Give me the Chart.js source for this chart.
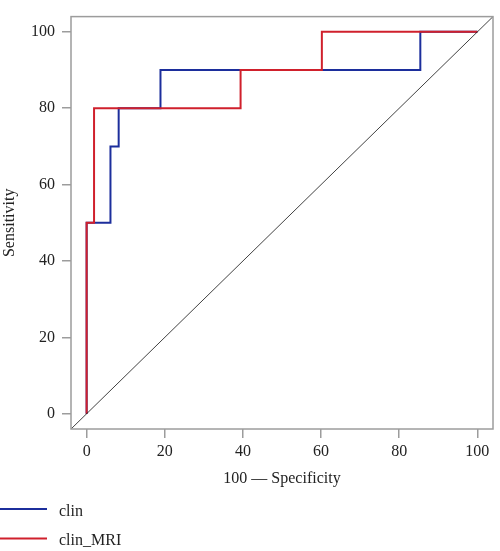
<!DOCTYPE html>
<html>
<head>
<meta charset="utf-8">
<script src="https://cdn.jsdelivr.net/npm/chart.js@4/dist/chart.umd.min.js"></script>
<style>
  html, body { margin: 0; padding: 0; background: #fff; }
  #wrap { width: 500px; height: 551px; }
</style>
</head>
<body>
<div id="wrap"><canvas id="roc" width="500" height="551"></canvas></div>
<script>
// ROC curves: x = 100 - specificity, y = sensitivity
const seriesNames = ["clin", "clin_MRI"];
const seriesColors = ["#1c2e9c", "#d0202c"];

const clinX = [0, 0, 6.1, 8.2, 18.9, 85.4, 100];
const clinY = [0, 50, 70, 80, 90, 100, 100];

const clinMriX = [0, 0, 1.9, 39.4, 60.2, 100];
const clinMriY = [0, 50, 80, 90, 100, 100];

const tickValues = [0, 20, 40, 60, 80, 100];
const axisMin = -4;
const axisMax = 104;

const FONT = "'Liberation Serif', 'DejaVu Serif', serif";
const FONT_SIZE = 16;

function toPoints(xs, ys) {
  return xs.map((x, i) => ({ x: x, y: ys[i] }));
}

// box around plot + legend below it
const boxAndLegend = {
  id: "boxAndLegend",
  afterDatasetsDraw(chart) {
    const { ctx, chartArea } = chart;
    ctx.save();
    ctx.strokeStyle = "#9c9c9c";
    ctx.lineWidth = 1.5;
    ctx.strokeRect(chartArea.left, chartArea.top,
      chartArea.right - chartArea.left, chartArea.bottom - chartArea.top);
    ctx.restore();
  },
  afterDraw(chart) {
    const { ctx } = chart;
    ctx.save();
    ctx.font = FONT_SIZE + "px " + FONT;
    ctx.textBaseline = "alphabetic";
    seriesNames.forEach((name, i) => {
      const y = chart.height - 42 + i * 29.5;
      ctx.strokeStyle = seriesColors[i];
      ctx.lineWidth = 2;
      ctx.beginPath();
      ctx.moveTo(0, y);
      ctx.lineTo(47, y);
      ctx.stroke();
      ctx.fillStyle = "#222";
      ctx.fillText(name, 59, y + 6.5);
    });
    ctx.restore();
  }
};

const setTicks = (scale) => {
  scale.ticks = tickValues.map(v => ({ value: v }));
};

new Chart(document.getElementById("roc"), {
  type: "scatter",
  data: {
    datasets: [
      {
        label: "diag",
        data: toPoints([axisMin, axisMax], [axisMin, axisMax]),
        showLine: true,
        borderColor: "#111",
        borderWidth: 0.8,
        pointRadius: 0,
        order: 0
      },
      {
        label: seriesNames[1],
        data: toPoints(clinMriX, clinMriY),
        showLine: true,
        stepped: "before",
        borderColor: seriesColors[1],
        borderWidth: 2,
        pointRadius: 0,
        order: 1
      },
      {
        label: seriesNames[0],
        data: toPoints(clinX, clinY),
        showLine: true,
        stepped: "before",
        borderColor: seriesColors[0],
        borderWidth: 2,
        pointRadius: 0,
        order: 2
      }
    ]
  },
  options: {
    responsive: false,
    animation: false,
    layout: { padding: { top: 7, right: 7, bottom: 60, left: 0 } },
    plugins: {
      legend: { display: false },
      tooltip: { enabled: false }
    },
    scales: {
      x: {
        type: "linear",
        min: axisMin,
        max: axisMax,
        afterBuildTicks: setTicks,
        afterFit: (s) => { s.height = 62; },
        border: { display: false },
        grid: { drawOnChartArea: false, drawTicks: true, tickLength: 9, color: "#9c9c9c", lineWidth: 1.5 },
        ticks: { color: "#222", padding: 4, maxRotation: 0, font: { family: FONT, size: FONT_SIZE } },
        title: {
          display: true,
          text: "100 \u2014 Specificity",
          color: "#222",
          padding: { top: 3, bottom: 3 },
          font: { family: FONT, size: FONT_SIZE }
        }
      },
      y: {
        type: "linear",
        min: axisMin,
        max: axisMax,
        afterBuildTicks: setTicks,
        afterFit: (s) => { s.width = 71; },
        border: { display: false },
        grid: { drawOnChartArea: false, drawTicks: true, tickLength: 9, color: "#9c9c9c", lineWidth: 1.5 },
        ticks: { color: "#222", padding: 7, font: { family: FONT, size: FONT_SIZE } },
        title: {
          display: true,
          text: "Sensitivity",
          color: "#222",
          padding: { top: 0, bottom: 0 },
          font: { family: FONT, size: FONT_SIZE }
        }
      }
    }
  },
  plugins: [boxAndLegend]
});
</script>
</body>
</html>
